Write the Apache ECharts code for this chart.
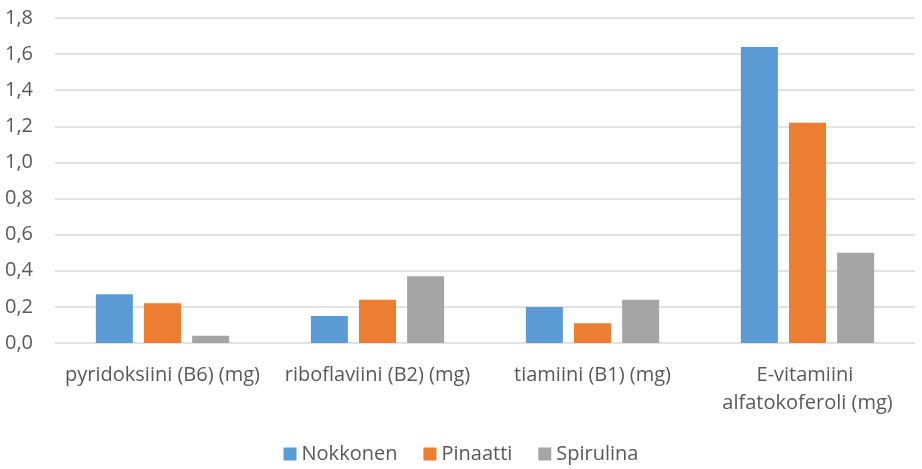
<!DOCTYPE html>
<html>
<head>
<meta charset="utf-8">
<script src="https://cdn.jsdelivr.net/npm/echarts@6/dist/echarts.min.js"></script>
<style>
  html, body { margin: 0; padding: 0; background: #fff; }
  #main { width: 922px; height: 469px; }
</style>
</head>
<body>
<div id="main"></div>
<script>
// kategoriat ja arvot (mg)
const categories = ['pyridoksiini (B6) (mg)', 'riboflaviini (B2) (mg)', 'tiamiini (B1) (mg)', 'E-vitamiini alfatokoferoli (mg)']
const nokkonen = [0.27, 0.15, 0.20, 1.64]
const pinaatti = [0.22, 0.24, 0.11, 1.22]
const spirulina = [0.04, 0.37, 0.24, 0.50]
const seriesNames = ['Nokkonen', 'Pinaatti', 'Spirulina']

const font = '"Open Sans", "Liberation Sans", sans-serif'
const textColor = '#595959'

const myChart = echarts.init(document.getElementById('main'))

function bar(name, data, color) {
  return {
    name,
    type: 'bar',
    data,
    barGap: '30%',
    barCategoryGap: '38%',
    itemStyle: { color },
  }
}

const option = {
  animation: false,
  textStyle: { fontFamily: font },
  grid: { left: 55, right: 7, top: 18, bottom: 126 },
  legend: {
    bottom: 0,
    left: 'center',
    icon: 'rect',
    itemWidth: 13,
    itemHeight: 13,
    itemGap: 26,
    textStyle: { color: textColor, fontSize: 20, fontFamily: font },
    data: seriesNames,
  },
  xAxis: {
    type: 'category',
    data: categories,
    axisLine: { show: false },
    axisTick: { show: false },
    axisLabel: {
      color: textColor,
      fontSize: 20,
      margin: 18,
      lineHeight: 28,
      width: 205,
      overflow: 'break',
      interval: 0,
    },
  },
  yAxis: {
    type: 'value',
    min: 0,
    max: 1.8,
    interval: 0.2,
    axisLabel: {
      color: textColor,
      fontSize: 20,
      margin: 22,
      formatter: v => v.toFixed(1).replace('.', ','),
    },
    splitLine: { lineStyle: { color: '#d9d9d9', width: 1.5 } },
  },
  series: [
    bar(seriesNames[0], nokkonen, '#5b9bd5'),
    bar(seriesNames[1], pinaatti, '#ed7d31'),
    bar(seriesNames[2], spirulina, '#a5a5a5'),
  ],
}

myChart.setOption(option)
</script>
</body>
</html>
